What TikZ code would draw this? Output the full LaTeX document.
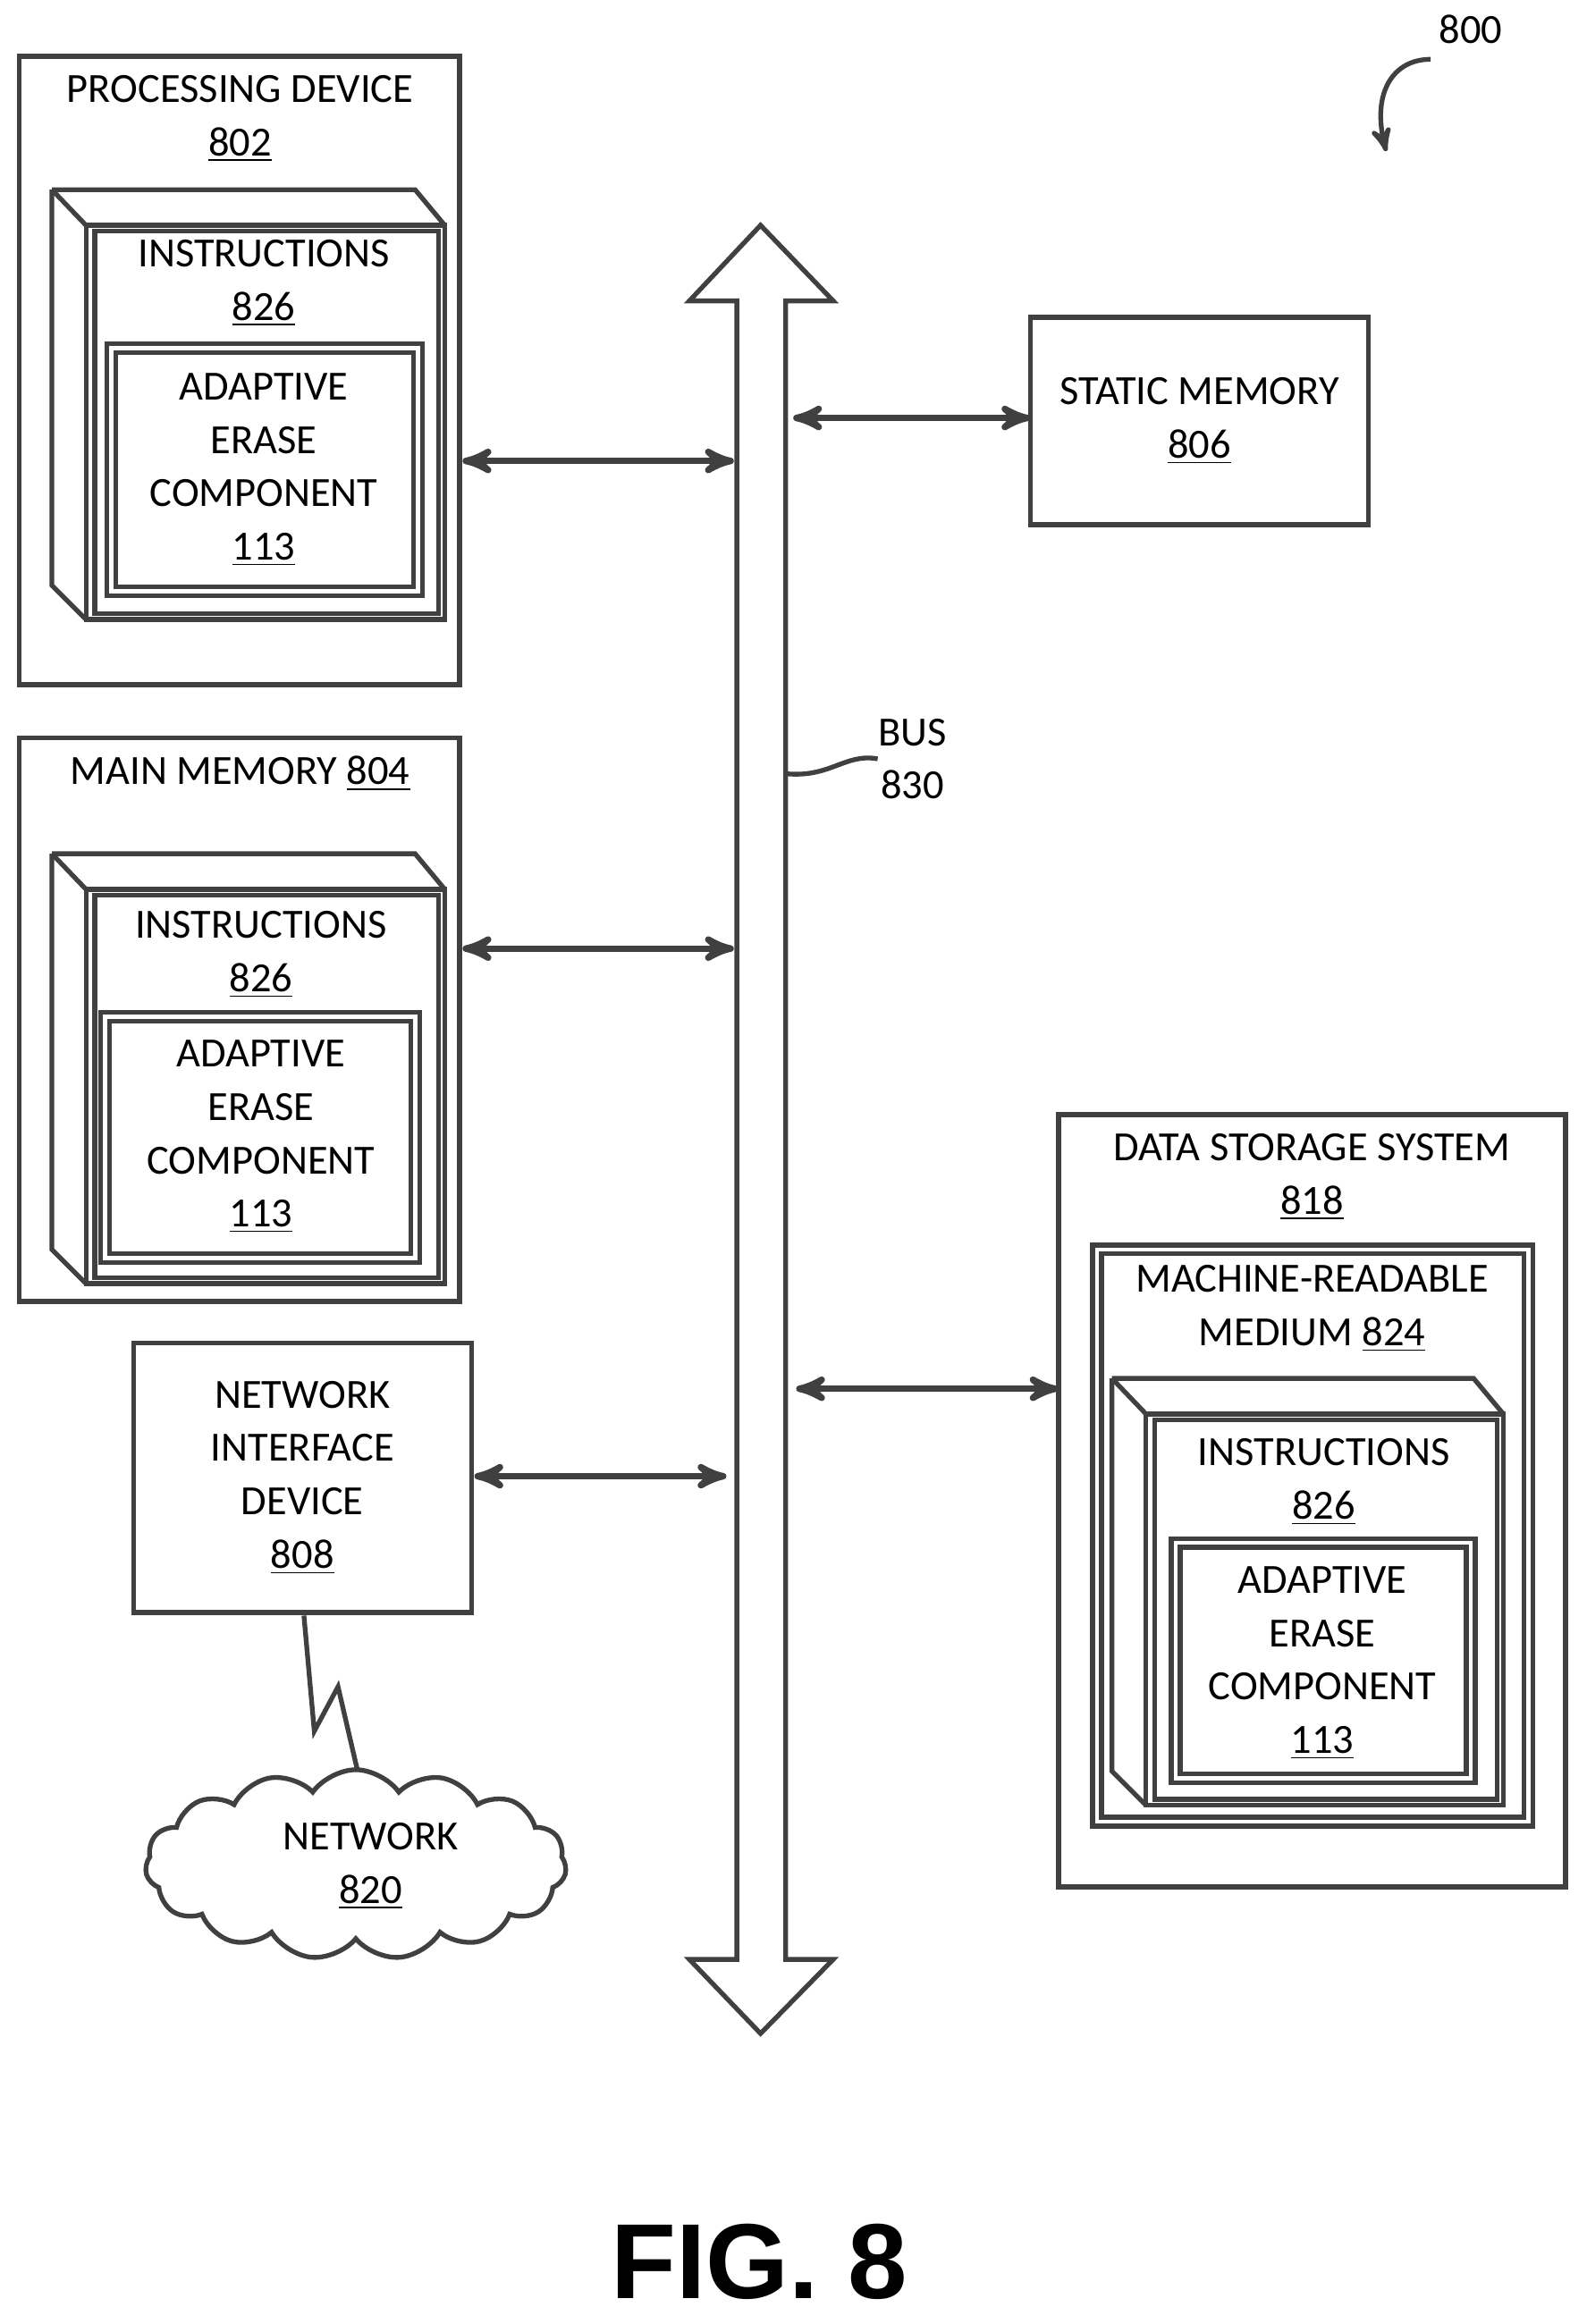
\documentclass[tikz,border=0pt]{standalone}
\usepackage{fontspec}
\setmainfont{Carlito}
\newfontfamily\figfont{Liberation Sans}
\usetikzlibrary{arrows, calc, positioning, shapes.symbols}

\tikzset{
  box/.style={draw=black!75, line width=1.6pt},
  lbl/.style={align=center, font=\fontsize{14pt}{18pt}\selectfont, inner sep=0pt},
  link/.style={<->, >=stealth', draw=black!75, line width=2.2pt}
}

% 3D instructions block: front face corners, then depth offset
\newcommand{\instrblock}[4]{%
  \draw[box] (#1,#2) rectangle (#3,#4);
  \draw[box] ($(#1,#2)+(-23,-24)$) -- ($(#3,#2)+(-20,-24)$) -- (#3,#2);
  \draw[box] ($(#1,#2)+(-23,-24)$) -- (#1,#2);
  \draw[box] ($(#1,#2)+(-23,-24)$) -- ($(#1,#4)+(-23,-23)$) -- (#1,#4);
  \draw[box] ($(#1,#2)+(6,4)$) rectangle ($(#3,#4)+(-4,-4)$);
}

\begin{document}
\begin{tikzpicture}[x=0.5pt, y=-0.5pt]
    \useasboundingbox (0,0) rectangle (1070,1568);

    % processing device
    \draw[box] (13,38) rectangle (310,462);
    \node[lbl] (pd) at (162,80) {PROCESSING DEVICE\\\underline{802}};
    \instrblock{58}{152}{300}{418}
    \node[lbl] (pdi) at (178,191) {INSTRUCTIONS\\\underline{826}};
    \draw[box] (72,232) rectangle (285,402);
    \draw[box] (78,238) rectangle (279,396);
    \node[lbl] (pda) at (178,317) {ADAPTIVE\\ERASE\\COMPONENT\\\underline{113}};

    % main memory
    \draw[box] (13,498) rectangle (310,878);
    \node[lbl] (mm) at (162,522) {MAIN MEMORY \underline{804}};
    \instrblock{58}{600}{300}{866}
    \node[lbl] (mmi) at (176,644) {INSTRUCTIONS\\\underline{826}};
    \draw[box] (68,683) rectangle (283,852);
    \draw[box] (74,689) rectangle (277,846);
    \node[lbl] (mma) at (176,767) {ADAPTIVE\\ERASE\\COMPONENT\\\underline{113}};

    % network interface device
    \draw[box] (90,906) rectangle (318,1088);
    \node[lbl] (nid) at (204,997) {NETWORK\\INTERFACE\\DEVICE\\\underline{808}};
    \node[cloud, cloud puffs=15, cloud puff arc=110, aspect=2.3, draw=black!75,
          line width=1.6pt, minimum width=142pt, minimum height=64pt] (net) at (240,1258) {};
    \node[lbl] (netl) at (250,1259) {NETWORK\\\underline{820}};
    \draw[box, line join=miter] (205,1090) -- (212,1168) -- (228,1138) -- (241,1194);

    % bus
    \draw[box, fill=white] (497,203) -- (465,203) -- (513,152) -- (562,203) -- (530,203)
        -- (530,1322) -- (562,1322) -- (513,1372) -- (465,1322) -- (497,1322) -- cycle;
    \node[lbl, anchor=west] (bus) at (592,512) {BUS\\830};
    \draw[draw=black!75, line width=1.6pt] (530,522) .. controls (560,525) and (570,508) .. (592,512);

    % static memory
    \draw[box] (695,214) rectangle (923,354);
    \node[lbl] (sm) at (809,284) {STATIC MEMORY\\\underline{806}};

    % data storage system
    \draw[box] (714,752) rectangle (1056,1273);
    \node[lbl] (ds) at (885,794) {DATA STORAGE SYSTEM\\\underline{818}};
    \draw[box] (737,840) rectangle (1034,1232);
    \draw[box] (743,846) rectangle (1028,1226);
    \node[lbl] (mr) at (885,883) {MACHINE-READABLE\\MEDIUM \underline{824}};
    \instrblock{773}{954}{1014}{1218}
    \node[lbl] (dsi) at (893,1000) {INSTRUCTIONS\\\underline{826}};
    \draw[box] (790,1038) rectangle (995,1203);
    \draw[box] (796,1044) rectangle (989,1197);
    \node[lbl] (dsa) at (892,1122) {ADAPTIVE\\ERASE\\COMPONENT\\\underline{113}};

    % connectors to bus
    \coordinate (b1) at (495,311);
    \coordinate (b2) at (495,640);
    \coordinate (b3) at (490,996);
    \coordinate (b4) at (535,282);
    \coordinate (b5) at (537,937);
    \draw[link] (312,311) -- (b1);
    \draw[link] (312,640) -- (b2);
    \draw[link] (320,996) -- (b3);
    \draw[link] (b4) -- (695,282);
    \draw[link] (b5) -- (714,937);

    % reference numeral
    \node[lbl] (ref) at (992,20) {800};
    \draw[->, >=stealth', draw=black!75, line width=1.6pt] (965,40) .. controls (940,40) and (925,62) .. (935,102);

    \node[font=\figfont\bfseries\fontsize{36pt}{36pt}\selectfont] (fig) at (512,1526) {FIG. 8};
\end{tikzpicture}
\end{document}
